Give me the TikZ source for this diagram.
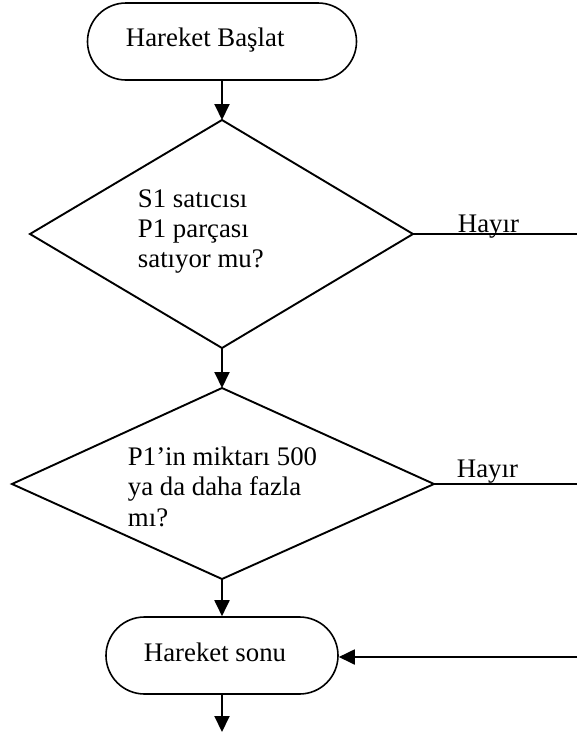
\documentclass[tikz,border=0pt]{standalone}
\usepackage{fontspec}
\setmainfont{Liberation Serif}
\usetikzlibrary{arrows.meta}
\begin{document}
\begin{tikzpicture}[x=1pt,y=-1pt,line width=1.9pt,
  term/.style={draw,line width=1.6pt,rounded corners=38.5pt,minimum width=#1,minimum height=77pt,inner sep=0pt},
  txt/.style={anchor=base west,inner sep=0pt,font=\fontsize{26.8}{31}\selectfont},
  arr/.style={-{Triangle[length=16pt,width=15pt]}},
  dia/.style={draw,line join=miter}]
\useasboundingbox (0,0) rectangle (580,740);
% terminals
\node[term=269pt] (start) at (222,41.5) {};
\node[txt] (starttxt) at (125,46) {Hareket Başlat};
\node[term=232pt] (end) at (222,655.5) {};
\node[txt] (endtxt) at (143,661) {Hareket sonu};
% diamond 1
\coordinate (d1t) at (222,120);
\coordinate (d1r) at (413,234);
\coordinate (d1b) at (222,348);
\coordinate (d1l) at (30,234);
\draw[dia] (d1t) -- (d1r) -- (d1b) -- (d1l) -- cycle;
\node[txt] (d1a) at (137,207) {S1 satıcısı};
\node[txt] (d1c) at (137,237) {P1 parçası};
\node[txt] (d1d) at (137,267) {satıyor mu?};
% diamond 2
\coordinate (d2t) at (222,388);
\coordinate (d2r) at (434,484);
\coordinate (d2b) at (222,579);
\coordinate (d2l) at (12,484);
\draw[dia] (d2t) -- (d2r) -- (d2b) -- (d2l) -- cycle;
\node[txt] (d2a) at (127,465) {P1’in miktarı 500};
\node[txt] (d2c) at (127,495) {ya da daha fazla};
\node[txt] (d2d) at (127,526) {mı?};
% free ends
\coordinate (e1) at (577,234);
\coordinate (e2) at (577,484);
\coordinate (e3) at (577,657);
\coordinate (e4) at (222,732);
% connectors
\draw[arr] (start.south) -- (d1t);
\draw[arr] (d1b) -- (d2t);
\draw[arr] (d2b) -- (end.north);
\draw[arr] (end.south) -- (e4);
\draw (d1r) -- (e1);
\draw (d2r) -- (e2);
\draw[arr] (e3) -- (e3 -| end.east);
\node[txt] (h1) at (457,232) {Hayır};
\node[txt] (h2) at (456,477) {Hayır};
\end{tikzpicture}
\end{document}
